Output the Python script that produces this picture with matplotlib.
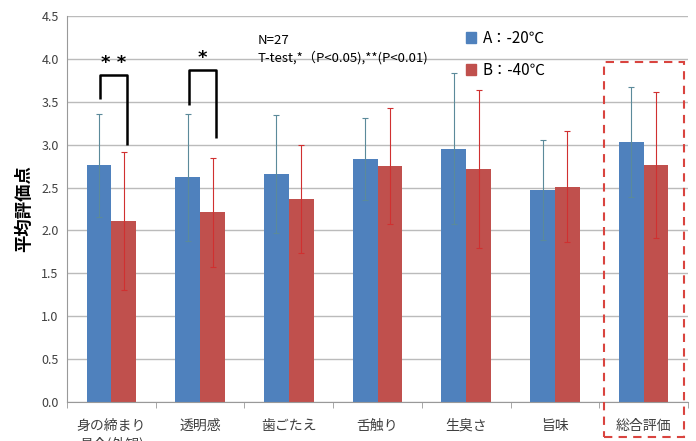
import numpy as np
import matplotlib
matplotlib.use("Agg")
import matplotlib.pyplot as plt
from matplotlib.patches import Patch, Rectangle

plt.rcParams['font.family'] = ['Noto Sans CJK JP', 'DejaVu Sans']

# data
categories = ['身の締まり\n具合(外観)', '透明感', '歯ごたえ', '舌触り', '生臭さ', '旨味', '総合評価']
mean_a = [2.76, 2.62, 2.66, 2.83, 2.95, 2.47, 3.03]
err_a = [0.60, 0.74, 0.69, 0.48, 0.88, 0.58, 0.64]
mean_b = [2.11, 2.21, 2.37, 2.75, 2.72, 2.51, 2.76]
err_b = [0.80, 0.64, 0.63, 0.68, 0.92, 0.65, 0.85]
label_a = 'A：-20℃'
label_b = 'B：-40℃'

# significance brackets: (category index, left foot, top, right foot, mark)
sig = [(0, 3.53, 3.81, 3.00, '* *'),
       (1, 3.46, 3.87, 3.08, '*')]

blue = '#4F81BD'
red = '#C0504D'
grey = '#404040'

fig = plt.figure(figsize=(6.96, 4.41), dpi=100)
ax = fig.add_axes([0.0963, 0.0884, 0.8922, 0.8753])

x = np.arange(len(categories))
w = 0.28
ax.bar(x - w / 2, mean_a, w, color=blue, zorder=2)
ax.bar(x + w / 2, mean_b, w, color=red, zorder=2)
ax.errorbar(x - w / 2, mean_a, yerr=err_a, fmt='none', ecolor='#5B8A9A',
            elinewidth=0.8, capsize=2, capthick=0.8, zorder=3)
ax.errorbar(x + w / 2, mean_b, yerr=err_b, fmt='none', ecolor='#D03030',
            elinewidth=0.8, capsize=2, capthick=0.8, zorder=3)

ax.set_xlim(-0.5, len(categories) - 0.5)
ax.set_ylim(0, 4.5)
ticks = np.arange(0, 4.51, 0.5)
ax.set_yticks(ticks)
ax.set_yticklabels([f'{v:.1f}' for v in ticks])
ax.yaxis.grid(True, color='#BBBBBB', lw=1.0, zorder=0)
ax.set_axisbelow(True)

ax.set_xticks(x)
ax.set_xticklabels(categories, fontsize=10, color=grey, linespacing=1.3, va='top')
ax.set_xticks(np.arange(-0.5, len(categories) + 0.5, 1), minor=True)
ax.tick_params(axis='x', which='major', length=0, pad=12)
ax.tick_params(axis='x', which='minor', length=4, color='#999999', direction='out')
ax.tick_params(axis='y', length=0, labelsize=9, labelcolor=grey, pad=6)

for s in ['top', 'right']:
    ax.spines[s].set_visible(False)
ax.spines['left'].set_color('#999999')
ax.spines['bottom'].set_color('#999999')

ax.set_ylabel('平均評価点', fontsize=12.5, fontweight='bold', labelpad=6)

# significance marks
for i, lf, top, rf, mark in sig:
    xl, xr = i - 0.13, i + 0.18
    ax.plot([xl, xl, xr, xr], [lf, top, top, rf], color='black', lw=1.8,
            solid_capstyle='butt', zorder=4)
    ax.text((xl + xr) / 2, top + 0.04, mark, ha='center', va='bottom',
            fontsize=13, fontweight='bold', family='DejaVu Sans')

ax.text(1.65, 4.22, 'N=27', fontsize=9.5, ha='left', va='center')
ax.text(1.65, 4.02, 'T-test,*（P<0.05),**(P<0.01)', fontsize=9.5, ha='left', va='center')

handles = [Patch(color=blue, label=label_a), Patch(color=red, label=label_b)]
ax.legend(handles=handles, loc='upper left', bbox_to_anchor=(0.62, 1.0), frameon=False,
          fontsize=11, handlelength=0.7, handleheight=0.7, handletextpad=0.4,
          labelspacing=1.0)

# dashed highlight box
ax.add_patch(Rectangle((5.55, -0.41), 0.9, 4.37, fill=False, ls=(0, (4, 3)),
                       ec='#D9443F', lw=1.5, clip_on=False, zorder=5))

fig.savefig('out.png', dpi=100)
